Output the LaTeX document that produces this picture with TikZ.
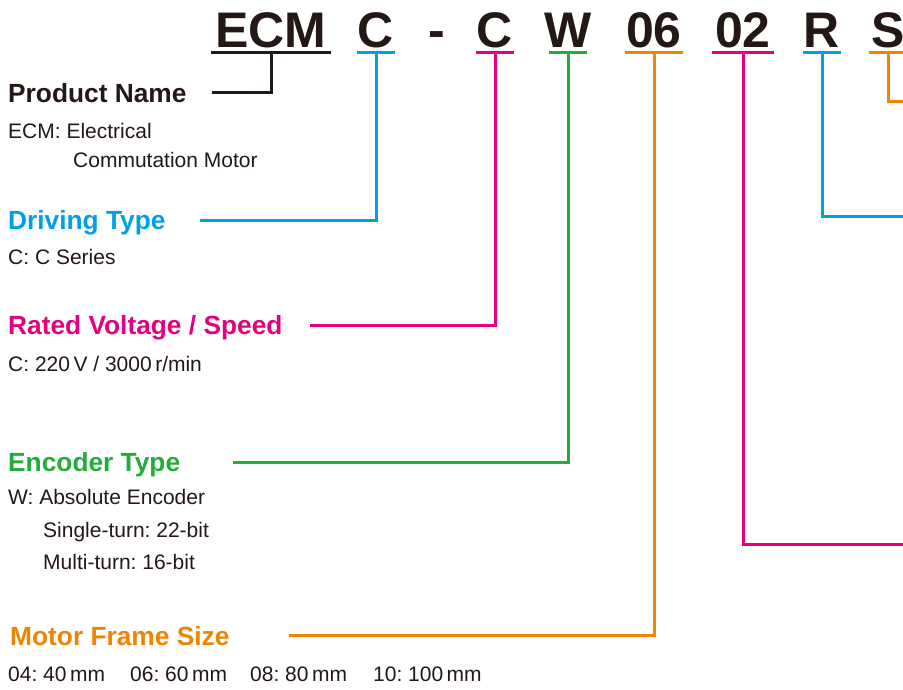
\documentclass[tikz,border=0pt]{standalone}
\usepackage{fontspec}
\setmainfont{Liberation Sans}
\usepackage{tikz}
\frenchspacing

\definecolor{inkblack}{HTML}{231815}
\definecolor{drvblue}{HTML}{00A0E9}
\definecolor{volmagenta}{HTML}{E5007F}
\definecolor{encgreen}{HTML}{22AC38}
\definecolor{frmorange}{HTML}{F08300}

\begin{document}
\begin{tikzpicture}[x=1pt,y=-1pt,
    code/.style={anchor=base,inner sep=0pt,text=inkblack,
      font=\fontsize{50}{50}\selectfont\bfseries},
    title/.style={anchor=base west,inner sep=0pt,
      font=\fontsize{26.3}{26}\selectfont\bfseries},
    desc/.style={anchor=base west,inner sep=0pt,text=inkblack,
      font=\fontsize{21}{21}\selectfont},
    link/.style={line width=3pt}]
        \useasboundingbox (0,0) rectangle (903,689);
        %
        % model code
        \node [code] (ecm) at (271,47) {ECM};
        \node [code] (cdrv) at (376,47) {C};
        \node [code] (dash) at (437,47) {-};
        \node [code] (cvol) at (495,47) {C};
        \node [code] (wenc) at (568,47) {W};
        \node [code] (frm) at (654,47) {06};
        \node [code] (pwr) at (743,47) {02};
        \node [code] (rr) at (822,47) {R};
        \node [code] (ss) at (888,47) {S};
        %
        \coordinate (uecm) at (271,52);
        \coordinate (udrv) at (376,52);
        \coordinate (uvol) at (495,52);
        \coordinate (uenc) at (568,52);
        \coordinate (ufrm) at (654,52);
        \coordinate (upwr) at (743,52);
        \coordinate (urr) at (822,52);
        \coordinate (uss) at (888,52);
        %
        % left column
        \node [title,text=inkblack] (prod) at (8,102) {Product Name};
        \node [desc] (prod1) at (8,138) {ECM: Electrical};
        \node [desc] (prod2) at (73,167) {Commutation Motor};
        %
        \node [title,text=drvblue] (drv) at (8,229) {Driving Type};
        \node [desc] (drv1) at (8,264) {C: C Series};
        %
        \node [title,text=volmagenta] (vol) at (8,334) {Rated Voltage / Speed};
        \node [desc] (vol1) at (8,371) {C: 220\,V / 3000\,r/min};
        %
        \node [title,text=encgreen] (enc) at (8,471) {Encoder Type};
        \node [desc] (enc1) at (8,504) {W: Absolute Encoder};
        \node [desc] (enc2) at (43,537) {Single-turn: 22-bit};
        \node [desc] (enc3) at (43,569) {Multi-turn: 16-bit};
        %
        \node [title,text=frmorange] (frmt) at (10,645) {Motor Frame Size};
        \node [desc] (frm1) at (8,681) {04: 40\,mm};
        \node [desc] (frm2) at (130,681) {06: 60\,mm};
        \node [desc] (frm3) at (250,681) {08: 80\,mm};
        \node [desc] (frm4) at (373,681) {10: 100\,mm};
        %
        % line ends
        \coordinate (eprod) at (212,92.5);
        \coordinate (edrv) at (200,220);
        \coordinate (evol) at (310,325);
        \coordinate (eenc) at (233,462);
        \coordinate (efrm) at (289,635);
        \coordinate (epwr) at (903,544);
        \coordinate (err) at (903,216);
        \coordinate (ess) at (903,101);
        %
        % underlines
        \draw [link,inkblack] ([xshift=-60pt]uecm) -- ([xshift=60pt]uecm);
        \draw [link,drvblue] ([xshift=-19pt]udrv) -- ([xshift=19pt]udrv);
        \draw [link,volmagenta] ([xshift=-19pt]uvol) -- ([xshift=19pt]uvol);
        \draw [link,encgreen] ([xshift=-19pt]uenc) -- ([xshift=19pt]uenc);
        \draw [link,frmorange] ([xshift=-29pt]ufrm) -- ([xshift=29pt]ufrm);
        \draw [link,volmagenta] ([xshift=-31pt]upwr) -- ([xshift=31pt]upwr);
        \draw [link,drvblue] ([xshift=-19pt]urr) -- ([xshift=19pt]urr);
        \draw [link,frmorange] ([xshift=-19pt]uss) -- ([xshift=19pt]uss);
        %
        % connectors
        \draw [link,inkblack] (uecm) |- (eprod);
        \draw [link,drvblue] (udrv) |- (edrv);
        \draw [link,volmagenta] (uvol) |- (evol);
        \draw [link,encgreen] (uenc) |- (eenc);
        \draw [link,frmorange] (ufrm) |- (efrm);
        \draw [link,volmagenta] (upwr) |- (epwr);
        \draw [link,drvblue] (urr) |- (err);
        \draw [link,frmorange] (uss) |- (ess);
\end{tikzpicture}
\end{document}
